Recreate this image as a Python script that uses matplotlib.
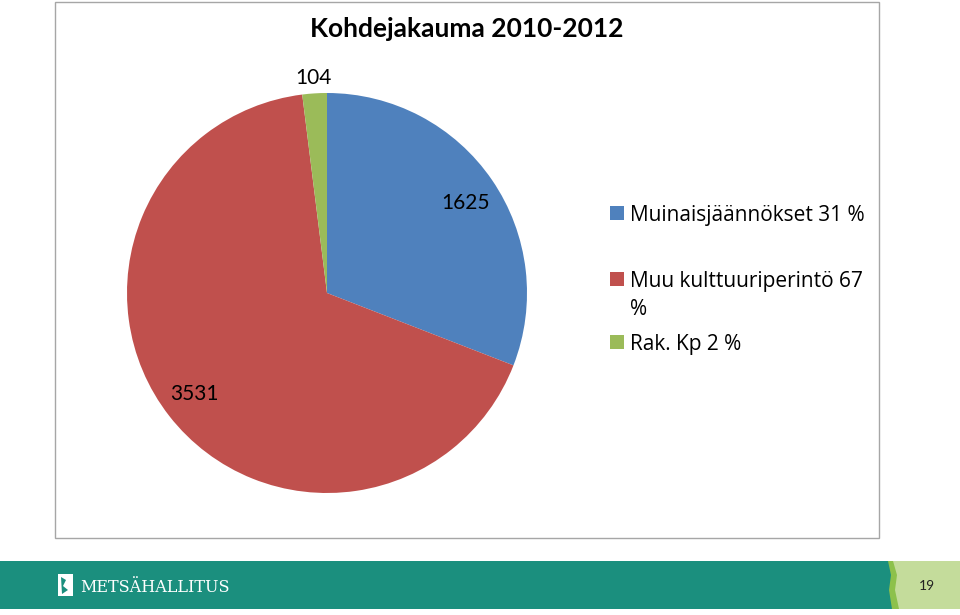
import matplotlib
matplotlib.use("Agg")
import matplotlib.pyplot as plt
from matplotlib.patches import Rectangle, Polygon

categories = ["Muinaisjäännökset", "Muu kulttuuriperintö", "Rak. Kp"]
values = [1625, 3531, 104]
legend_labels = ["Muinaisjäännökset 31 %", "Muu kulttuuriperintö 67\n%", "Rak. Kp 2 %"]
colors = ["#4f81bd", "#c0504d", "#9bbb59"]
title = "Kohdejakauma 2010-2012"
page_number = "19"
brand = "METSÄHALLITUS"

W, H = 960, 615
fig = plt.figure(figsize=(W / 100, H / 100), dpi=100)
fig.patch.set_facecolor("white")

# overlay axes in pixel coordinates
ov = fig.add_axes([0, 0, 1, 1])
ov.set_xlim(0, W)
ov.set_ylim(H, 0)
ov.axis("off")

# chart frame
ov.add_patch(Rectangle((55, 2), 824, 536, fill=False, edgecolor="#a6a6a6", lw=1.0))

# footer
ov.add_patch(Rectangle((0, 561), 895, 48, facecolor="#1b8f7e", edgecolor="none"))
ov.add_patch(Rectangle((893, 561), 67, 48, facecolor="#c4dc9b", edgecolor="none"))
ov.add_patch(Polygon([(888, 561), (893, 561), (897, 575), (895, 590), (899, 609), (892, 609), (889, 590), (891, 575)],
                     closed=True, facecolor="#8dc14b", edgecolor="none"))
ov.add_patch(Rectangle((58, 574), 15, 22, facecolor="white", edgecolor="none"))
ov.add_patch(Polygon([(61, 577), (66, 580), (63, 586), (68, 590), (62, 594)], closed=True,
                     facecolor="#1b8f7e", edgecolor="none"))
ov.text(80, 588, brand, color="white", fontsize=11.5, family="DejaVu Serif",
        va="center", ha="left")
ov.text(927, 586, page_number, color="#222222", fontsize=10, family="Lato",
        va="center", ha="center")

# title
ov.text(467, 29, title, fontsize=19, fontweight="bold", family="Lato",
        ha="center", va="center", color="black")

# pie axes: center (327, 293), radius 200 px
cx, cy, r = 327, 293, 200
ax = fig.add_axes([(cx - r) / W, (H - (cy + r)) / H, 2 * r / W, 2 * r / H])
ax.pie(values, colors=colors, startangle=90, counterclock=False, radius=1,
       wedgeprops=dict(linewidth=0))
ax.set_xlim(-1, 1)
ax.set_ylim(-1, 1)
ax.set_aspect("equal")
ax.axis("off")

label_pos = [(466, 203), (194, 394), (313, 78)]
for v, (px, py) in zip(values, label_pos):
    ax.text((px - cx) / r, (cy - py) / r, str(v), fontsize=15, family="Lato",
            ha="center", va="center", color="black", clip_on=False)

# legend (baselines in pixels)
leg_base = [221, 287, 350]
for c, lab, yb in zip(colors, legend_labels, leg_base):
    ov.add_patch(Rectangle((610, yb - 15), 14, 14, facecolor=c, edgecolor="none"))
    lines = lab.split("\n")
    for i, ln in enumerate(lines):
        ov.text(630, yb + 28 * i, ln, fontsize=15, family="Open Sans", ha="left",
                va="baseline", color="black")

fig.savefig("out.png", dpi=100)
